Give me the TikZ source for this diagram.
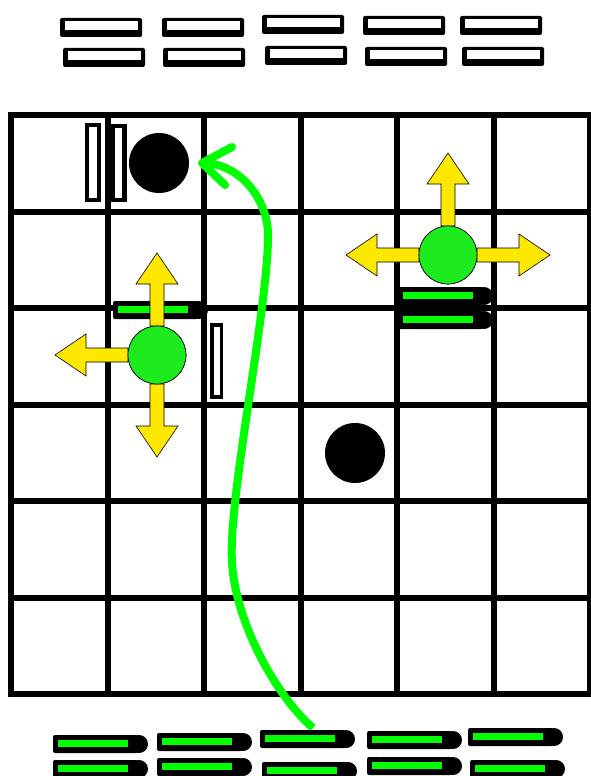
\documentclass[tikz,border=0pt]{standalone}
\definecolor{bargreen}{RGB}{0,255,0}
\definecolor{robotgreen}{RGB}{30,235,30}
\definecolor{arrowyellow}{RGB}{255,232,0}
\tikzset{
  gridline/.style={line width=6pt},
  wbar/.pic={\fill[black,rounded corners=2pt] (0,0) rectangle (82,19);
             \fill[white] (5,3.5) rectangle (78,12);},
  gbar/.pic={\fill[black,rounded corners=2pt] (0,0) rectangle (85,18);
             \fill[bargreen] (5,5) rectangle (75,12);
             \fill[black] (86,9) circle (9pt);},
  yarrow/.pic={\filldraw[fill=arrowyellow,draw=black,line width=0.6pt]
             (0,-7) -- (42,-7) -- (42,-21) -- (73,0) -- (42,21) -- (42,7) -- (0,7) -- cycle;},
  robot/.style={circle, fill=robotgreen, draw=black, line width=0.6pt, minimum size=58pt, inner sep=0pt, outer sep=0pt},
  ball/.style={circle, fill=black, minimum size=60pt, inner sep=0pt},
  route/.style={draw=bargreen, line width=8pt},
  routehead/.style={draw=bargreen, line width=8pt, line cap=round, line join=round},
}
\begin{document}
\begin{tikzpicture}[x=1pt,y=-1pt]
\useasboundingbox (0,0) rectangle (590,776);
\fill[white] (0,0) rectangle (590,776);
% grid
\draw[gridline] (11,115) rectangle (590,694);
\foreach \i in {1,...,5} {
  \draw[gridline] ({11+96.5*\i},115) -- ({11+96.5*\i},694);
  \draw[gridline] (11,{115+96.5*\i}) -- (590,{115+96.5*\i});
}
% top bars
\foreach \x/\y in {60/18,162/18,262/15,363/16,460/16,63/48,163/48,265/46,365/47,462/47}
  \pic at (\x,\y) {wbar};
% green bars in grid
\pic at (113,301) {gbar};
\pic at (398,287) {gbar};
\pic at (398,311) {gbar};
% walls
\fill[black] (85,123) rectangle (101,202); \fill[white] (89,127) rectangle (97,198);
\fill[black] (110,124) rectangle (127,202); \fill[white] (115,128) rectangle (122,198);
\fill[black] (210,323) rectangle (223,399); \fill[white] (213.5,327) rectangle (219.5,395);
% robots
\node[robot] (r1) at (157,355) {};
\node[robot] (r2) at (448,255) {};
\pic[rotate=90] at (r1.north) {yarrow};
\pic[rotate=180] at (r1.west) {yarrow};
\pic[rotate=-90] at (r1.south) {yarrow};
\pic[rotate=90] at (r2.north) {yarrow};
\pic[rotate=180] at (r2.west) {yarrow};
\pic at (r2.east) {yarrow};
\node[robot] at (r1) {};
\node[robot] at (r2) {};
% balls
\node[ball] (b1) at (159,163) {};
\node[ball] (b2) at (355,453) {};
% route
\coordinate (cstart) at (313,728);
\coordinate (cmid1) at (232,563);
\coordinate (cmid2) at (268,240);
\coordinate (cend) at (202,163);
\draw[route] (cstart) .. controls (278,698) and (236,625) .. (cmid1)
  .. controls (228,500) and (266,320) .. (cmid2)
  .. controls (270,200) and (240,163) .. (cend);
\coordinate (barbA) at (232,147);
\coordinate (barbB) at (225,185);
\draw[routehead] (barbA) -- (cend) -- (barbB);
% bottom bars
\foreach \x/\y in {53/735,157/733,260/730,367/731,468/728,53/760,157/758,262/762,367/757,470/760}
  \pic at (\x,\y) {gbar};
\end{tikzpicture}
\end{document}
